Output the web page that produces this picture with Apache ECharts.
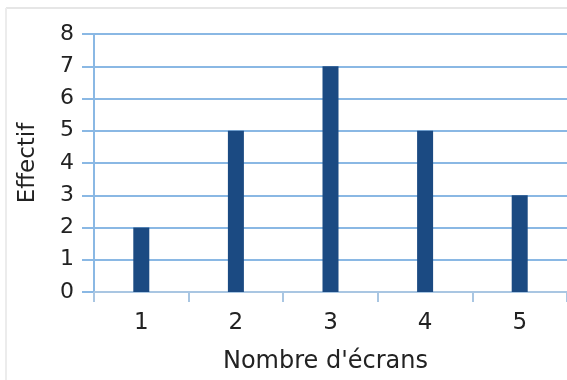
<!DOCTYPE html>
<html><head><meta charset="utf-8">
<script src="https://cdn.jsdelivr.net/npm/echarts@6/dist/echarts.min.js"></script>
<style>html,body{margin:0;padding:0;background:#fff}#c{width:567px;height:380px}</style>
</head><body><div id="c"></div>
<script>
const categories = ['1','2','3','4','5'];
const effectif = [2,5,7,5,3];
const yTicks = [0,1,2,3,4,5,6,7,8];

const chart = echarts.init(document.getElementById('c'));
chart.setOption({
  animation:false,
  textStyle:{fontFamily:'DejaVu Sans'},
  graphic:[
    {type:'line',shape:{x1:6,y1:8,x2:567,y2:8},style:{stroke:'#e6e6e6',lineWidth:2},silent:true},
    {type:'line',shape:{x1:6,y1:8,x2:6,y2:380},style:{stroke:'#ececec',lineWidth:2},silent:true}
  ],
  grid:{left:94,right:-6,top:34,bottom:88},
  xAxis:{
    type:'category',data:categories,boundaryGap:true,
    name:"Nombre d'écrans",nameLocation:'middle',nameGap:58,
    nameTextStyle:{fontSize:24,color:'#222',fontFamily:'DejaVu Sans',padding:[0,10,0,0]},
    axisLine:{lineStyle:{color:'#a9c6e2',width:2}},
    axisTick:{show:true,length:10,lineStyle:{color:'#a9c6e2',width:2}},
    axisLabel:{fontSize:23,color:'#222',margin:20}
  },
  yAxis:{
    type:'value',min:yTicks[0],max:yTicks[yTicks.length-1],interval:1,
    name:'Effectif',nameLocation:'middle',nameGap:54,
    nameTextStyle:{fontSize:23,color:'#222',fontFamily:'DejaVu Sans'},
    axisLine:{show:true,lineStyle:{color:'#8ab8e4',width:2}},
    axisTick:{show:true,length:12,lineStyle:{color:'#8ab8e4',width:2}},
    axisLabel:{fontSize:22,color:'#222',margin:20},
    splitLine:{lineStyle:{color:'#8ab8e4',width:2}}
  },
  series:[{type:'bar',data:effectif,barWidth:16,itemStyle:{color:'#1b4a82'}}]
});
</script></body></html>
